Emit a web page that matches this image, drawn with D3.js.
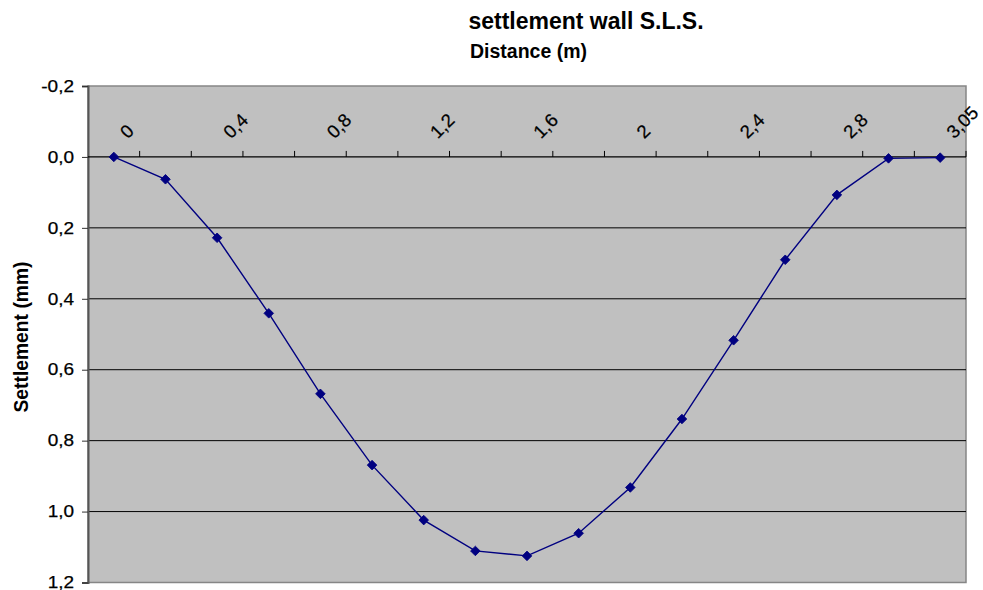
<!DOCTYPE html>
<html>
<head>
<meta charset="utf-8">
<script src="https://cdn.jsdelivr.net/npm/d3@7"></script>
<style>
  html, body { margin: 0; padding: 0; background: #fff; }
  svg { display: block; font-family: "Liberation Sans", Arial, sans-serif; }
</style>
</head>
<body>
<svg id="chart" width="983" height="590"></svg>
<script>
// Distance along the wall (m) and settlement (mm) at each station
const distances = [0, 0.2, 0.4, 0.6, 0.8, 1.0, 1.2, 1.4, 1.6, 1.8, 2.0, 2.2, 2.4, 2.6, 2.8, 2.95, 3.05];
const settlement = [0, 0.063, 0.228, 0.441, 0.668, 0.869, 1.024, 1.111, 1.125, 1.061, 0.932, 0.739, 0.517, 0.290, 0.107, 0.004, 0.002];
const yTicks = [-0.2, 0, 0.2, 0.4, 0.6, 0.8, 1.0, 1.2];

const titleText = "settlement wall S.L.S.";
const xTitle = "Distance (m)";
const yTitle = "Settlement (mm)";

const svg = d3.select("#chart");
const plot = { left: 88, right: 966, top: 86, bottom: 582.5 };

// decimal comma, plain hyphen for negatives
const locale = d3.formatLocale({ decimal: ",", thousands: ".", grouping: [3], currency: ["", ""], minus: "-" });
const fmtY = locale.format(".1f");
const fmtX = locale.format("");

const x = d3.scaleBand().domain(d3.range(distances.length)).range([plot.left, plot.right]).padding(0);
const y = d3.scaleLinear().domain([-0.2, 1.2]).range([plot.top, plot.bottom]);
const xc = i => x(i) + x.bandwidth() / 2;

// widen glyphs slightly, as the chart's labels are drawn
function stretch(sel, k) {
  sel.each(function () {
    const w = this.getComputedTextLength();
    d3.select(this).attr("textLength", w * k).attr("lengthAdjust", "spacingAndGlyphs");
  });
}

// plot background
svg.append("rect")
  .attr("x", plot.left).attr("y", plot.top)
  .attr("width", plot.right - plot.left).attr("height", plot.bottom - plot.top)
  .attr("fill", "#c0c0c0").attr("stroke", "#868686").attr("stroke-width", 1.5);

// horizontal gridlines
svg.append("g").selectAll("line")
  .data(yTicks.filter(v => v > 0 && v < 1.2))
  .join("line")
  .attr("x1", plot.left).attr("x2", plot.right)
  .attr("y1", d => y(d)).attr("y2", d => y(d))
  .attr("stroke", "#000").attr("stroke-width", 1);

// value axis on the left
const yAxis = svg.append("g")
  .attr("transform", `translate(${plot.left},0)`)
  .call(d3.axisLeft(y).tickValues(yTicks).tickFormat(fmtY).tickSize(6).tickPadding(8));
yAxis.select(".domain").attr("stroke", "#555").attr("stroke-width", 2);
yAxis.selectAll(".tick line").attr("stroke", "#333");
yAxis.selectAll(".tick text")
  .attr("font-size", 16.5).attr("fill", "#000")
  .attr("stroke", "#000").attr("stroke-width", 0.25)
  .attr("font-family", "Liberation Sans, Arial, sans-serif")
  .call(stretch, 1.15);

// category axis crossing at zero
const axisY = y(0);
const xAxis = svg.append("g");
xAxis.append("line")
  .attr("x1", plot.left).attr("x2", plot.right)
  .attr("y1", axisY).attr("y2", axisY)
  .attr("stroke", "#000").attr("stroke-width", 1.2);
const bounds = d3.range(1, distances.length + 1).map(i => i < distances.length ? x(i) : x(i - 1) + x.bandwidth());
xAxis.selectAll("line.tick")
  .data(bounds)
  .join("line")
  .attr("class", "tick")
  .attr("x1", d => d).attr("x2", d => d)
  .attr("y1", axisY).attr("y2", axisY - 6)
  .attr("stroke", "#000").attr("stroke-width", 1);
xAxis.selectAll("text")
  .data(distances.map((d, i) => ({ d, i })).filter(o => o.i % 2 === 0))
  .join("text")
  .attr("transform", o => `translate(${xc(o.i) + 14},${axisY - 17.5}) rotate(-45)`)
  .attr("text-anchor", "start")
  .attr("font-size", 18.5)
  .attr("fill", "#000")
  .attr("stroke", "#000").attr("stroke-width", 0.25)
  .text(o => fmtX(o.d));

// settlement line and markers
const line = d3.line().x((d, i) => xc(i)).y(d => y(d));
svg.append("path")
  .datum(settlement)
  .attr("d", line)
  .attr("fill", "none")
  .attr("stroke", "#000080")
  .attr("stroke-width", 1.4);

const marker = d3.symbol().type(d3.symbolSquare).size(46);
svg.append("g").selectAll("path")
  .data(settlement)
  .join("path")
  .attr("d", marker)
  .attr("transform", (d, i) => `translate(${xc(i)},${y(d)}) rotate(45)`)
  .attr("fill", "#000080")
  .attr("stroke", "#000080")
  .attr("stroke-width", 0.8);

// titles
svg.append("text")
  .attr("x", 586).attr("y", 28.5)
  .attr("text-anchor", "middle")
  .attr("font-size", 23).attr("font-weight", "bold")
  .text(titleText);

svg.append("text")
  .attr("x", 528.5).attr("y", 58)
  .attr("text-anchor", "middle")
  .attr("font-size", 19.5).attr("font-weight", "bold")
  .text(xTitle);

svg.append("text")
  .attr("transform", "translate(27.5,337) rotate(-90)")
  .attr("text-anchor", "middle")
  .attr("font-size", 19.3).attr("font-weight", "bold")
  .text(yTitle);
</script>
</body>
</html>
